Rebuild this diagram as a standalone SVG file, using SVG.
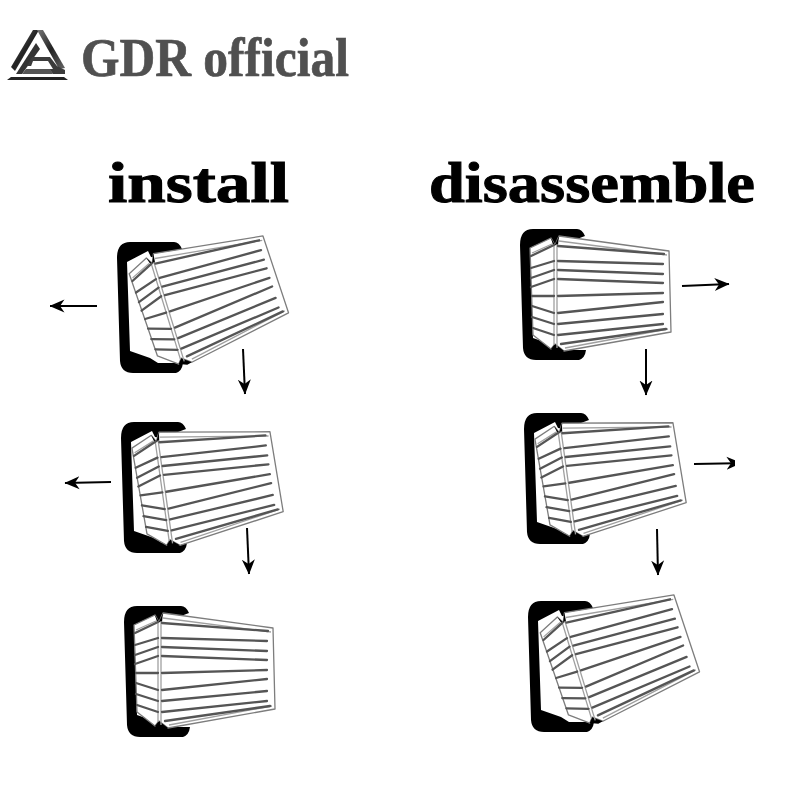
<svg xmlns="http://www.w3.org/2000/svg" width="800" height="800" viewBox="0 0 800 800">
<style>
.title{font-family:"Liberation Serif",serif;font-weight:700;font-size:58px;fill:#000;stroke:#000;stroke-width:1}
.brand{font-family:"Liberation Serif",serif;font-weight:700;font-size:55px;fill:#505050;stroke:#505050;stroke-width:.7}
.out{fill:#fff;stroke:#7d7d7d;stroke-width:1.3;stroke-linejoin:round}
.slot{fill:none;stroke:#555;stroke-width:2.3;stroke-linecap:round}
.edge{fill:none;stroke:#a0a0a0;stroke-width:1.3}
.arrow{fill:none;stroke:#000;stroke-width:2;marker-end:url(#head)}
</style>
<defs>
<linearGradient id="lg" x1="0" y1="0" x2="1" y2="1"><stop offset="0" stop-color="#777"/><stop offset=".5" stop-color="#222"/><stop offset="1" stop-color="#666"/></linearGradient>
<clipPath id="cut"><rect x="680" y="440" width="55" height="50"/></clipPath>
<marker id="head" viewBox="0 0 15 14" markerUnits="userSpaceOnUse" markerWidth="15" markerHeight="14" refX="14.5" refY="7" orient="auto">
<path d="M0 0.5L15 7L0 13.5L4.5 7Z" fill="#000"/>
</marker>
<path id="holder" d="M137 606H181Q186 606 189 613L165 622L158 621L155 615L134 626L137 715L157 722L165 727H190Q189 735 183 737H140Q128 737 127 725L124 622Q124 606 137 606Z" fill="#000"/>
<g id="collet">
<path class="out" d="M134 625L155 615L159 622L163 613L273 628L275 709L168 728L159 721L155 726L137 712Z"/>
<path d="M155 615L159 622L163 613L162 622H157ZM155 726L159 721L168 728L163 729Z" fill="#000"/>
<path class="edge" d="M158 622L158 722M161 621L161 725M163 618L271 632M136 630L156 621M169 725L272 706"/>
<path class="slot" d="M135 633L158 622M135 645L158 638M135 655L158 647M135 664L158 656M136 673L158 673M136 683L158 690M136 694L158 701M137 705L158 712"/>
<path class="slot" d="M162 623L268 631M162 638L267 641M162 647L267 651M162 656L267 660M162 673L267 670M162 690L267 679M162 701L267 691M162 712L267 701M165 721L270 706"/>
</g>
</defs>
<g id="logo">
<path d="M33 30H39L15 71L11 67Z" fill="url(#lg)"/>
<path d="M37 30H43L65 68L59 69Z" fill="url(#lg)"/>
<path d="M36 43L40 49L22 74H16Z" fill="#333"/>
<path d="M32 57H50L57 66L65 70V74H53L47 66H27Z" fill="#3c3c3c"/>
<path d="M33 61H48L53 69H30Z" fill="#fff"/>
<path d="M26 69H50L53 74H22Z" fill="#555"/>
<path d="M7 80L11 77H64L68 80Z" fill="#222"/>
</g>
<text id="brand" class="brand" x="81" y="76" textLength="268" lengthAdjust="spacingAndGlyphs">GDR official</text>
<text id="title-install" class="title" x="108" y="202" textLength="181" lengthAdjust="spacingAndGlyphs">install</text>
<text id="title-disassemble" class="title" x="429" y="202" textLength="326" lengthAdjust="spacingAndGlyphs">disassemble</text>
<g id="install-1"><use href="#holder" transform="translate(-7,-364)"/><use href="#collet" transform="matrix(.956,-.292,.292,.956,-181.4,-284.7)"/></g>
<g id="install-2"><use href="#holder" transform="translate(-3,-184)"/><use href="#collet" transform="matrix(.99,-.139,.139,.99,-87.6,-152)"/></g>
<g id="install-3"><use href="#holder"/><use href="#collet"/></g>
<g id="disassemble-1"><use href="#holder" transform="translate(396,-377)"/><use href="#collet" transform="translate(396,-377)"/></g>
<g id="disassemble-2"><use href="#holder" transform="translate(400,-193)"/><use href="#collet" transform="matrix(.99,-.139,.139,.99,315.4,-161)"/></g>
<g id="disassemble-3"><use href="#holder" transform="translate(404,-5)"/><use href="#collet" transform="matrix(.956,-.292,.292,.956,229.6,74.3)"/></g>
<g id="connectors">
<path class="arrow" d="M97 306L50 306"/>
<path class="arrow" d="M243 349L245 394"/>
<path class="arrow" d="M111 482L65 483"/>
<path class="arrow" d="M247 528L249 574"/>
<path class="arrow" d="M682 286L729 284"/>
<path class="arrow" d="M646 349L646 395"/>
<path class="arrow" d="M694 464L741 463" clip-path="url(#cut)"/>
<path class="arrow" d="M657 529L658 575"/>
</g>
</svg>
